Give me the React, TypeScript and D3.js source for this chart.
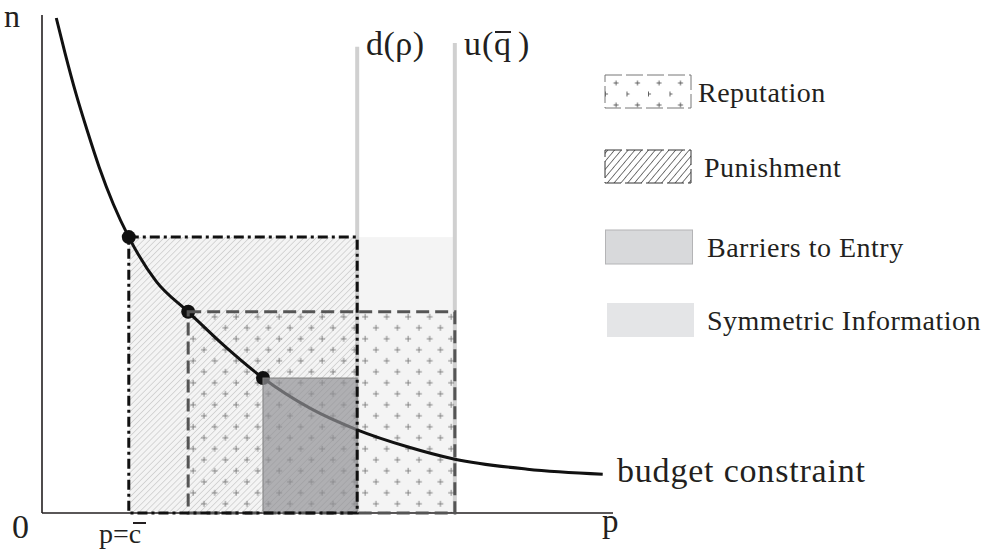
import React from "react";
import * as d3 from "d3";

// budget constraint (p, n)
const curveP = [0.25, 0.4, 0.6, 0.8, 1.0, 1.25, 1.52, 2.0, 2.56, 3.2, 3.87, 4.7, 5.52, 6.4, 7.23, 8.5, 9.82];
const curveN = [9.94, 9.25, 8.4, 7.65, 6.95, 6.2, 5.54, 4.65, 4.04, 3.35, 2.71, 2.1, 1.67, 1.33, 1.08, 0.88, 0.78];

// equilibrium points on the constraint
const pointP = [1.52, 2.56, 3.87];
const pointN = [5.54, 4.04, 2.71];

// shaded regions
const regionNames = ["Symmetric Information", "Punishment", "Reputation", "Barriers to Entry"];
const regionP0 = [1.52, 1.52, 2.56, 3.87];
const regionP1 = [7.23, 5.52, 7.23, 5.52];
const regionN1 = [5.54, 5.54, 4.04, 2.71];

// vertical thresholds
const thresholdP = [5.52, 7.23];
const thresholdTop = [9.36, 9.44];

const legendNames = ["Reputation", "Punishment", "Barriers to Entry", "Symmetric Information"];

const W = 988;
const H = 555;
const FONT = "Liberation Serif, DejaVu Serif, serif";
const INK = "#231f20";

export default function App() {
  const x = d3.scaleLinear().domain([0, 10]).range([42, 613]);
  const y = d3.scaleLinear().domain([0, 10]).range([513, 15]);

  const pts: [number, number][] = curveP.map((p, i) => [p, curveN[i]]);
  const line = d3
    .line<[number, number]>()
    .x((d) => x(d[0]))
    .y((d) => y(d[1]))
    .curve(d3.curveMonotoneX);

  const rect = (i: number) => ({
    x: x(regionP0[i]),
    y: y(regionN1[i]),
    width: x(regionP1[i]) - x(regionP0[i]),
    height: y(0) - y(regionN1[i]),
  });

  const sym = rect(0);
  const pun = rect(1);
  const rep = rect(2);
  const bar = rect(3);

  const plus = (cx: number, cy: number, s: number, color: string, sw: number) => (
    <g stroke={color} strokeWidth={sw}>
      <line x1={cx - s} x2={cx + s} y1={cy} y2={cy} />
      <line x1={cx} x2={cx} y1={cy - s} y2={cy + s} />
    </g>
  );

  // legend layout
  const legY = [75, 150, 230, 303];
  const swW = 86;
  const swH = 34;

  return (
    <div style={{ position: "fixed", left: 0, top: 0 }}>
      <svg width={W} height={H} style={{ display: "block", background: "#fff" }}>
        <defs>
          <pattern id="hatch" patternUnits="userSpaceOnUse" width={4.3} height={4.3} patternTransform="rotate(45)">
            <line x1={0} y1={0} x2={0} y2={4.3} stroke="#aaaaaa" strokeWidth={0.8} />
          </pattern>
          <pattern id="hatchLeg" patternUnits="userSpaceOnUse" width={5.2} height={5.2} patternTransform="rotate(40)">
            <line x1={0} y1={0} x2={0} y2={5.2} stroke="#222" strokeWidth={1.2} />
          </pattern>
          <pattern id="plus" patternUnits="userSpaceOnUse" x={rep.x} y={rep.y} width={21.5} height={22}>
            {plus(5, 5, 3, "#6a6a6a", 0.8)}
            {plus(15.75, 16, 3, "#6a6a6a", 0.8)}
          </pattern>
          <pattern id="plusLeg" patternUnits="userSpaceOnUse" x={605} y={75} width={21.5} height={22}>
            {plus(11, 8, 2.5, "#555", 0.9)}
            {plus(0.5, 19, 2.5, "#555", 0.9)}
          </pattern>
        </defs>

        {/* symmetric information background */}
        <rect {...sym} fill="#f4f4f4" />

        {/* thresholds */}
        {thresholdP.map((p, i) => (
          <line key={i} x1={x(p)} x2={x(p)} y1={y(thresholdTop[i])} y2={y(0)} stroke="#d0d0d0" strokeWidth={4} />
        ))}

        {/* punishment hatch, reputation pluses */}
        <rect {...pun} fill="url(#hatch)" />
        <rect {...rep} fill="url(#plus)" />

        {/* axes */}
        <line x1={x(0)} x2={x(0)} y1={y(10)} y2={y(0)} stroke={INK} strokeWidth={1.6} />
        <line x1={x(0)} x2={x(10)} y1={y(0)} y2={y(0)} stroke={INK} strokeWidth={1.6} />

        {/* budget constraint */}
        <path d={line(pts) || ""} fill="none" stroke="#111" strokeWidth={3} />
        {pointP.map((p, i) => (
          <circle key={i} cx={x(p)} cy={y(pointN[i])} r={7} fill="#111" />
        ))}

        {/* barriers to entry */}
        <rect {...bar} fill="#929296" fillOpacity={0.7} stroke="#808080" strokeWidth={1} />

        {/* borders */}
        <rect {...rep} fill="none" stroke="#555" strokeWidth={3} strokeDasharray="13,6" />
        <rect {...pun} fill="none" stroke="#111" strokeWidth={3} strokeDasharray="10,4,3,4" />

        {/* threshold labels */}
        <text x={366} y={55} fontFamily={FONT} fontSize={34} letterSpacing={0.5} fill={INK}>
          d(ρ)
        </text>
        <text x={464} y={55} fontFamily={FONT} fontSize={34} fill={INK}>
          u
        </text>
        <text x={482} y={55} fontFamily={FONT} fontSize={34} fill={INK}>
          (
        </text>
        <text x={494} y={55} fontFamily={FONT} fontSize={34} fill={INK}>
          q
        </text>
        <line x1={495} x2={511} y1={32} y2={32} stroke={INK} strokeWidth={2} />
        <text x={518} y={55} fontFamily={FONT} fontSize={34} fill={INK}>
          )
        </text>

        {/* axis labels */}
        <text x={4} y={27} fontFamily={FONT} fontSize={32} fill={INK}>
          n
        </text>
        <text x={12} y={538} fontFamily={FONT} fontSize={34} fill={INK}>
          0
        </text>
        <text x={602} y={532} fontFamily={FONT} fontSize={33} fill={INK}>
          p
        </text>
        <text x={99} y={543} fontFamily={FONT} fontSize={28} fill={INK}>
          p=c
        </text>
        <line x1={133} x2={146} y1={523} y2={523} stroke={INK} strokeWidth={2} />
        <text x={617} y={482} fontFamily={FONT} fontSize={34} letterSpacing={0.8} fill={INK}>
          budget constraint
        </text>

        {/* legend */}
        <g>
          <rect x={605} y={legY[0]} width={swW} height={swH - 1} fill="url(#plusLeg)" stroke="#777" strokeWidth={1} strokeDasharray="17,4" />
          <rect x={605} y={legY[1]} width={swW} height={swH - 1} fill="url(#hatchLeg)" stroke="#333" strokeWidth={1} strokeDasharray="17,4" />
          <rect x={605.5} y={legY[2]} width={swW + 1} height={swH} fill="#d8d9db" stroke="#b4b4b6" strokeWidth={1} />
          <rect x={607} y={legY[3]} width={swW + 1} height={swH} fill="#e4e5e7" />
          {legendNames.map((name, i) => (
            <text
              key={name}
              x={[698, 704, 707, 707][i]}
              y={[102, 177, 257, 330][i]}
              fontFamily={FONT}
              fontSize={28}
              letterSpacing={0.5}
              fill={INK}
            >
              {name}
            </text>
          ))}
        </g>
      </svg>
    </div>
  );
}
